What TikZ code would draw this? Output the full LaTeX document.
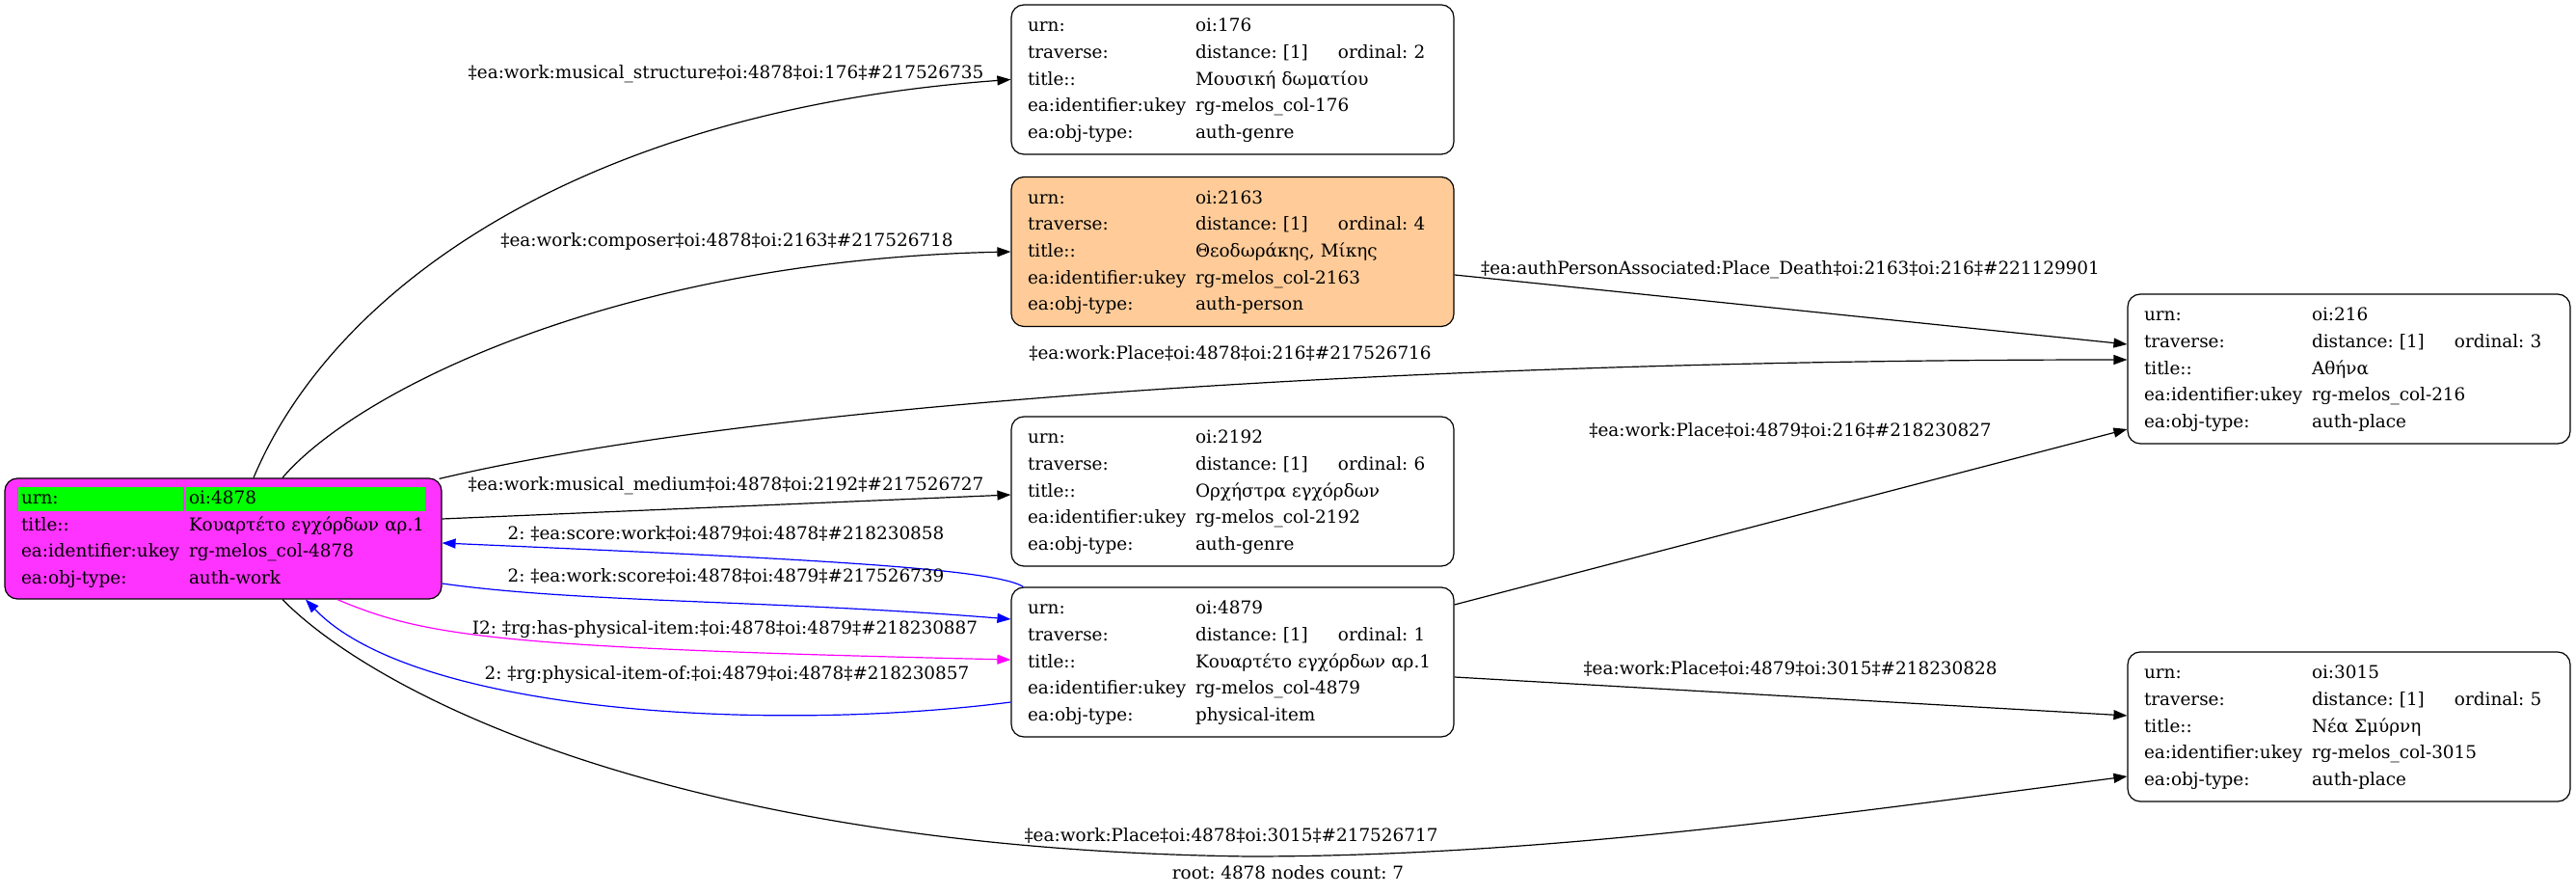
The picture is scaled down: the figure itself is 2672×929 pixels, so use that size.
\documentclass[tikz,border=0pt]{standalone}
\usepackage{fontspec}
\setmainfont{DejaVu Serif}
\usepackage{tikz}
\usetikzlibrary{arrows.meta}

\definecolor{workpink}{RGB}{255,51,255}
\definecolor{personpeach}{RGB}{255,204,153}
\definecolor{urngreen}{RGB}{0,255,0}
\definecolor{linkblue}{RGB}{0,0,255}
\definecolor{linkpink}{RGB}{255,0,255}
\renewcommand{\arraystretch}{1.25}
\setlength{\fboxsep}{1.5pt}
\frenchspacing

\newcommand{\objrec}[4]{\noindent\begin{tabular}{@{}p{87pt}@{}l@{}}
urn: & oi:#1\\
traverse: & \makebox[74pt][l]{distance: [1]}ordinal: #2\\
title:: & #3\\
ea:identifier:ukey & rg-melos\_col-#1\\
ea:obj-type: & #4
\end{tabular}}
\newcommand{\urncell}[2]{\hspace*{-1.5pt}\colorbox{urngreen}{\makebox[#1][l]{\rule[-2.5pt]{0pt}{9.5pt}#2}}}

\tikzset{
  rec/.style={draw=black, line width=0.6pt, rounded corners=6.5pt, inner xsep=8.5pt, inner ysep=0pt,
    text width=212.5pt, minimum height=77.5pt, align=left, font=\fontsize{9.2}{11.08}\selectfont},
  lbl/.style={inner sep=0pt, font=\fontsize{9.2}{11.08}\selectfont},
  link/.style={line width=0.6pt, -{Triangle[length=7pt,width=5pt]}},
}

\begin{document}
\begin{tikzpicture}[x=0.5pt,y=-0.5pt]
	%\draw[help lines] (0,0) grid[step=100] (2672,929);
	\useasboundingbox (0,0) rectangle (2672,929);
	% records
	\node[rec, fill=workpink, text width=209.5pt, minimum height=62.5pt] (w4878) at (231.5,558.5) {\noindent\begin{tabular}{@{}p{87pt}@{}l@{}}
		\urncell{82.5pt}{urn:} & \urncell{121pt}{oi:4878}\\
		title:: & Κουαρτέτο εγχόρδων αρ.1\\
		ea:identifier:ukey & rg-melos\_col-4878\\
		ea:obj-type: & auth-work
		\end{tabular}};
	\node[rec] (g176) at (1278.5,82.5) {\objrec{176}{2}{Μουσική δωματίου}{auth-genre}};
	\node[rec, fill=personpeach] (p2163) at (1278.5,261) {\objrec{2163}{4}{Θεοδωράκης, Μίκης}{auth-person}};
	\node[rec] (g2192) at (1278.5,509.5) {\objrec{2192}{6}{Ορχήστρα εγχόρδων}{auth-genre}};
	\node[rec] (i4879) at (1278.5,686.5) {\objrec{4879}{1}{Κουαρτέτο εγχόρδων αρ.1}{physical-item}};
	\node[rec] (pl216) at (2436.5,382.5) {\objrec{216}{3}{Αθήνα}{auth-place}};
	\node[rec] (pl3015) at (2436.5,753.5) {\objrec{3015}{5}{Νέα Σμύρνη}{auth-place}};

	% links from the work
	\draw[link] ([xshift=15.75pt]w4878.north) .. controls (345,300) and (600,115) .. (g176.west);
	\draw[link] ([xshift=30.75pt]w4878.north) .. controls (370,405) and (640,270) .. (p2163.west);
	\draw[link] ([xshift=-1.5pt,yshift=-0.5pt]w4878.north east) .. controls (800,415) and (1500,373) .. ([yshift=4.75pt]pl216.west);
	\draw[link] ([yshift=10.25pt]w4878.east) -- ([yshift=-1.75pt]g2192.west);
	\draw[link, linkblue] ([xshift=6.5pt]i4879.north west) .. controls (1030,588) and (800,578) .. ([yshift=-2.25pt]w4878.east);
	\draw[link, linkblue] ([yshift=-23.25pt]w4878.east) .. controls (600,625) and (800,622) .. ([yshift=22.25pt]i4879.west);
	\draw[link, linkpink] ([xshift=59.25pt]w4878.south) .. controls (440,660) and (520,672) .. ([yshift=1.25pt]i4879.west);
	\draw[link, linkblue] ([yshift=-20.75pt]i4879.west) .. controls (800,760) and (430,740) .. ([xshift=42.75pt]w4878.south);
	\draw[link] ([xshift=30.75pt]w4878.south) .. controls (390,720) and (700,880) .. (1295,888)
		.. controls (1600,888) and (1900,845) .. ([yshift=-25.75pt]pl3015.west);
	% links to the places
	\draw[link] ([yshift=-12pt]p2163.east) -- ([yshift=12.75pt]pl216.west);
	\draw[link] ([yshift=29.75pt]i4879.east) -- ([yshift=-31.25pt]pl216.west);
	\draw[link] ([yshift=-7.75pt]i4879.east) -- ([yshift=5.75pt]pl3015.west);

	% labels
	\node[lbl] (l176) at (753,77) {‡ea:work:musical\_structure‡oi:4878‡oi:176‡\#217526735};
	\node[lbl] (l2163) at (754,250) {‡ea:work:composer‡oi:4878‡oi:2163‡\#217526718};
	\node[lbl] (l216a) at (1276,366) {‡ea:work:Place‡oi:4878‡oi:216‡\#217526716};
	\node[lbl] (l2192) at (753,504) {‡ea:work:musical\_medium‡oi:4878‡oi:2192‡\#217526727};
	\node[lbl] (lscw) at (753,553) {2: ‡ea:score:work‡oi:4879‡oi:4878‡\#218230858};
	\node[lbl] (lwsc) at (753,597) {2: ‡ea:work:score‡oi:4878‡oi:4879‡\#217526739};
	\node[lbl] (lhas) at (752,653) {I2: ‡rg:has-physical-item:‡oi:4878‡oi:4879‡\#218230887};
	\node[lbl] (lof) at (754,700) {2: ‡rg:physical-item-of:‡oi:4879‡oi:4878‡\#218230857};
	\node[lbl] (l3015a) at (1277,866) {‡ea:work:Place‡oi:4878‡oi:3015‡\#217526717};
	\node[lbl] (ldeath) at (1857,280) {‡ea:authPersonAssociated:Place\_Death‡oi:2163‡oi:216‡\#221129901};
	\node[lbl] (l216b) at (1857,446) {‡ea:work:Place‡oi:4879‡oi:216‡\#218230827};
	\node[lbl] (l3015b) at (1857,693) {‡ea:work:Place‡oi:4879‡oi:3015‡\#218230828};
	\node[lbl] (count) at (1336,905) {root: 4878 nodes count: 7};
\end{tikzpicture}
\end{document}
